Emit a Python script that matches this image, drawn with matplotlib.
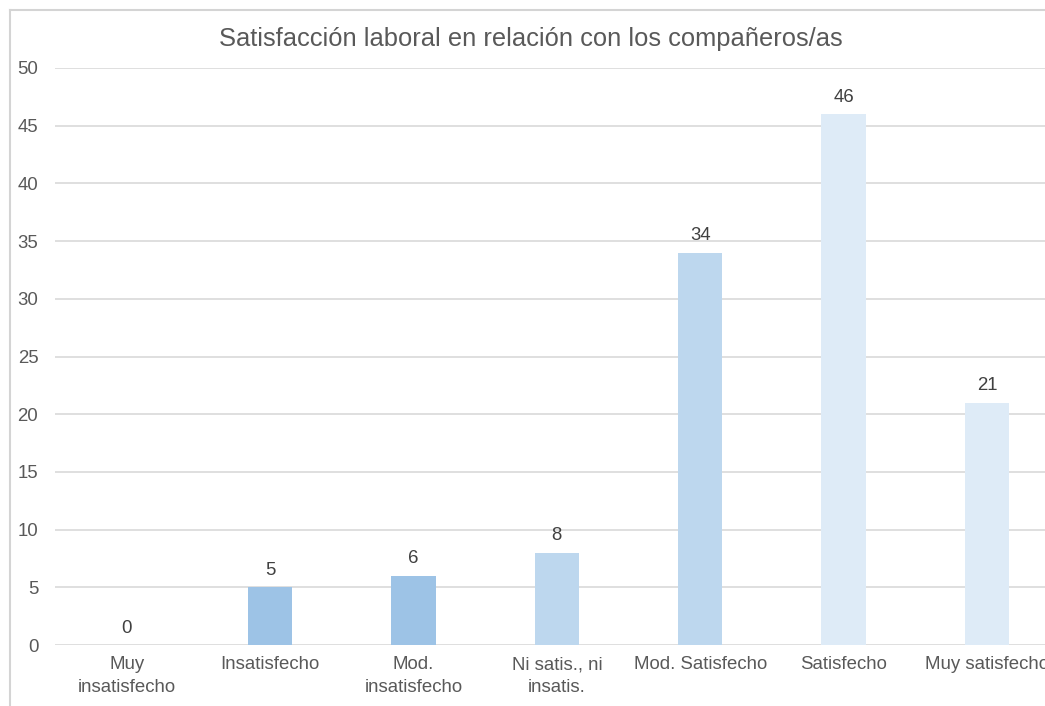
import matplotlib
matplotlib.use("Agg")
import matplotlib.pyplot as plt
from matplotlib.lines import Line2D

categories = ["Muy\ninsatisfecho", "Insatisfecho", "Mod.\ninsatisfecho",
              "Ni satis., ni\ninsatis.", "Mod. Satisfecho", "Satisfecho",
              "Muy satisfecho"]
values = [0, 5, 6, 8, 34, 46, 21]
bar_colors = ["#9DC3E6", "#9DC3E6", "#9DC3E6", "#BDD7EE", "#BDD7EE",
              "#DEEBF7", "#DEEBF7"]
y_ticks = [0, 5, 10, 15, 20, 25, 30, 35, 40, 45, 50]
title = "Satisfacción laboral en relación con los compañeros/as"

plt.rcParams["font.family"] = ["Liberation Sans", "DejaVu Sans"]

W, H = 1045, 706
fig = plt.figure(figsize=(W / 100, H / 100), dpi=100)
fig.patch.set_facecolor("white")

# plot area runs past the right edge of the canvas
ax = fig.add_axes([55 / W, 61 / H, 1003.7 / W, 577 / H])
ax.set_facecolor("white")

x = range(len(values))
bars = ax.bar(x, values, width=0.31, color=bar_colors, zorder=3)

ax.set_xlim(-0.5, len(values) - 0.5)
ax.set_ylim(0, 50)
ax.set_yticks(y_ticks)
ax.set_yticklabels([str(t) for t in y_ticks])
ax.set_xticks(list(x))
ax.set_xticklabels(categories, linespacing=1.45)

ax.grid(axis="y", color="#D9D9D9", linewidth=1.2, zorder=0)
ax.set_axisbelow(True)
for s in ax.spines.values():
    s.set_visible(False)
ax.tick_params(axis="both", length=0, labelsize=13.4, colors="#595959")
ax.tick_params(axis="y", pad=12)
ax.tick_params(axis="x", pad=8)

for rect, v in zip(bars, values):
    ax.annotate(str(v), (rect.get_x() + rect.get_width() / 2, v),
                xytext=(0, 6), textcoords="offset points",
                ha="center", va="bottom", fontsize=13.4, color="#404040")

fig.text(0.508, 1 - 39 / H, title, ha="center", va="center",
         fontsize=18.4, color="#595959")

# chart frame (left and top edges visible)
frame_color = "#D4D4D4"
fig.add_artist(Line2D([9.5 / W, 9.5 / W], [0, 1 - 9.5 / H],
                      color=frame_color, linewidth=1.5,
                      transform=fig.transFigure))
fig.add_artist(Line2D([9.5 / W, 1.0], [1 - 9.5 / H, 1 - 9.5 / H],
                      color=frame_color, linewidth=1.5,
                      transform=fig.transFigure))

fig.savefig("out.png", dpi=100)
